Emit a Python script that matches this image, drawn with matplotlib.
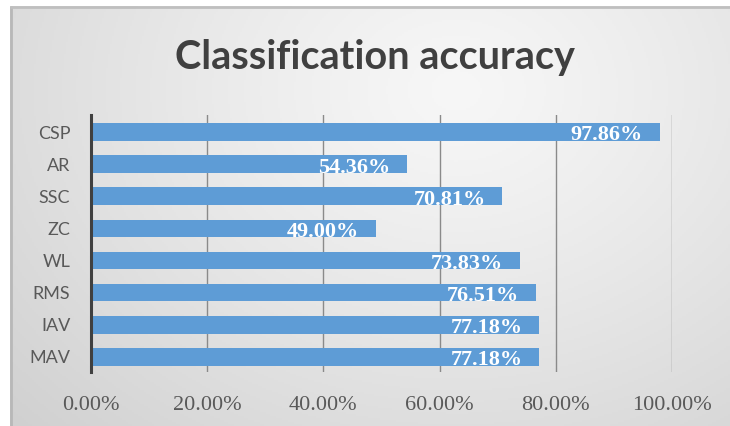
import numpy as np
import matplotlib
matplotlib.use("Agg")
import matplotlib.pyplot as plt
from matplotlib.ticker import FixedLocator

categories = ["MAV", "IAV", "RMS", "WL", "ZC", "SSC", "AR", "CSP"]
values = [77.18, 77.18, 76.51, 73.83, 49.00, 70.81, 54.36, 97.86]
xticks = [0, 20, 40, 60, 80, 100]
xtick_labels = ["0.00%", "20.00%", "40.00%", "60.00%", "80.00%", "100.00%"]
title = "Classification accuracy"

W, H = 730, 426
fig = plt.figure(figsize=(W / 100, H / 100), dpi=100)
fig.patch.set_facecolor("white")

# background panel with radial gradient
bx0, by_top = 10, 6
bg = fig.add_axes([bx0 / W, 0, 1 - bx0 / W, 1 - by_top / H])
bg.set_axis_off()
nx, ny = 360, 210
xx, yy = np.meshgrid(np.linspace(0, 1, nx), np.linspace(0, 1, ny))
d = np.sqrt(((xx - 0.62) / 0.7) ** 2 + ((yy - 0.2) / 0.95) ** 2)
g = 0.968 - 0.12 * np.clip(d, 0, 1.3) ** 1.2
img = np.dstack([g, g, g])
bg.imshow(img, extent=[0, 1, 0, 1], origin="upper", aspect="auto")
bg.set_xlim(0, 1)
bg.set_ylim(0, 1)
bg.plot([0.0015, 0.0015], [0, 1], color="#b8b8b8", lw=2, solid_capstyle="butt")
bg.plot([0, 1], [0.997, 0.997], color="#bfbfbf", lw=2, solid_capstyle="butt")

ax = fig.add_axes([91 / W, 1 - 372 / H, (672 - 91) / W, (372 - 115) / H])
ax.patch.set_alpha(0)
y = np.arange(len(categories))
bars = ax.barh(y, values, height=0.55, color="#5E9CD6", zorder=3)
ax.set_xlim(0, 100)
ax.set_ylim(-0.47, len(categories) - 0.47)
ax.xaxis.set_major_locator(FixedLocator(xticks))
ax.set_xticklabels(xtick_labels, family="Liberation Serif", fontsize=16, color="#595959")
ax.set_yticks(y)
ax.set_yticklabels(categories, family="Lato", fontsize=13, color="#595959")
ax.tick_params(axis="x", length=0, pad=17)
ax.tick_params(axis="y", length=0, pad=15)
for s in ["top", "right", "bottom"]:
    ax.spines[s].set_visible(False)
ax.spines["left"].set_color("#404040")
ax.spines["left"].set_linewidth(2.2)
ax.spines["left"].set_zorder(4)
ax.grid(axis="x", color="#8a8a8a", lw=1.0, zorder=1)
ax.grid(axis="y", visible=False)

for yi, v in zip(y, values):
    ax.annotate(f"{v:.2f}%", xy=(v, yi), xytext=(-12, -2.5), textcoords="offset points",
                ha="right", va="center", color="white", family="Liberation Serif",
                fontsize=16, fontweight="bold", zorder=5)

fig.text(375 / W, 1 - 58 / H, title, ha="center", va="center", family="Lato",
         fontweight="bold", fontsize=28.5, color="#404040")

fig.savefig("out.png", dpi=100)
